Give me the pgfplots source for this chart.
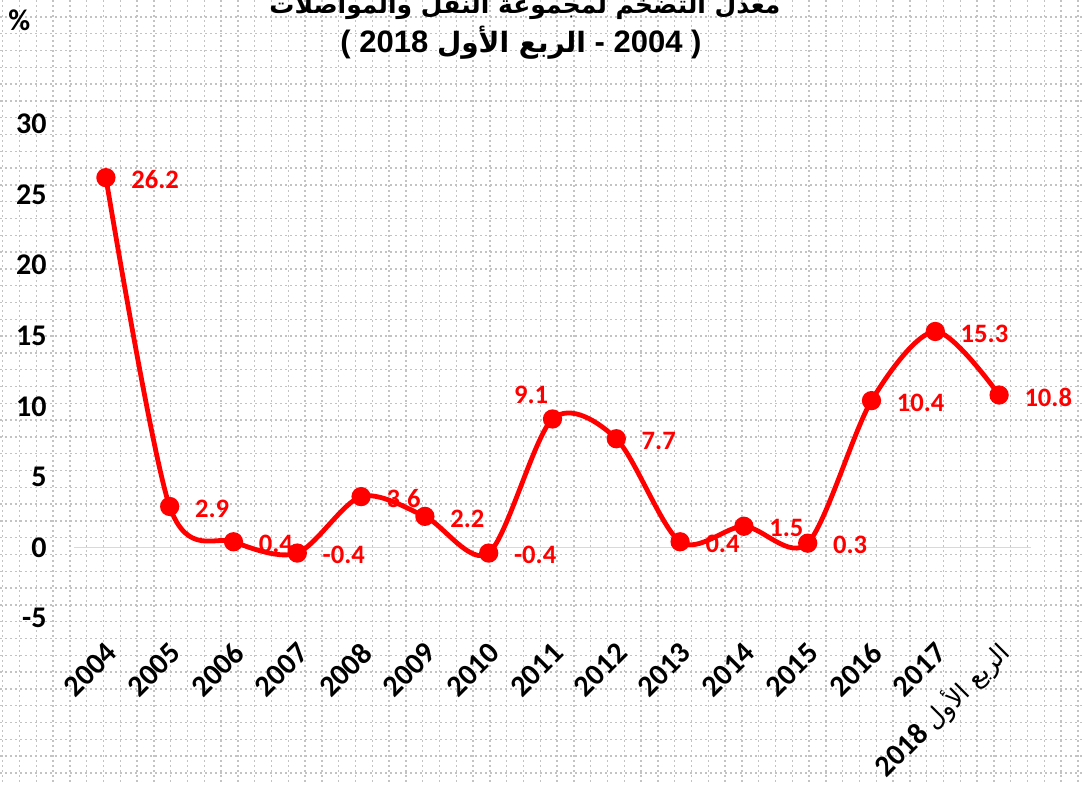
\documentclass[border=0pt]{standalone}
\usepackage{pgfplots}
\pgfplotsset{compat=1.18}
\usetikzlibrary{backgrounds}
\usepackage{fontspec}
\setmainfont{Carlito}
\newfontfamily\titlefont{Liberation Sans}
\newfontfamily\arabicfont[Script=Arabic]{DejaVu Sans}
\TeXXeTstate=1
\definecolor{lblred}{RGB}{255,0,0}
\definecolor{zeroline}{RGB}{217,217,217}
\definecolor{bggrid}{RGB}{195,195,195}

\pgfplotstableread{
x y lbl
0 26.2 26.2
1 2.9 2.9
2 0.4 0.4
3 -0.4 -0.4
4 3.6 3.6
5 2.2 2.2
6 -0.4 -0.4
7 9.1 {}
8 7.7 7.7
9 0.4 0.4
10 1.5 1.5
11 0.3 0.3
12 10.4 10.4
13 15.3 15.3
14 10.8 10.8
}\mainseries

\pgfplotstableread{
x y lbl
7 9.1 9.1
}\leftlabel

\begin{document}
\begin{tikzpicture}
\begin{axis}[
  scale only axis, width=478.5pt, height=247pt,
  xmin=-0.5, xmax=14.5, ymin=-5, ymax=30,
  clip=false,
  axis line style={draw=none},
  major tick length=0pt,
  xtick={0,1,2,3,4,5,6,7,8,9,10,11,12,13,14},
  xticklabels={2004,2005,2006,2007,2008,2009,2010,2011,2012,2013,2014,2015,2016,2017,{2018 {\arabicfont\mdseries\fontsize{12.5}{13}\selectfont\beginR الربع الأول\endR}}},
  ytick={-5,0,5,10,15,20,25,30},
  yticklabels={-5,0,5,10,15,20,25,30},
  extra y ticks={0},
  extra y tick labels={},
  extra y tick style={grid=major, major grid style={zeroline, line width=0.8pt}},
  yticklabel style={anchor=east, inner sep=0pt, xshift=-13.5pt, font=\bfseries\fontsize{15}{15}\selectfont},
  xticklabel style={anchor=east, inner sep=0pt, yshift=-15pt, xshift=3pt, rotate=45, font=\bfseries\fontsize{15}{15}\selectfont},
]
\addplot[color=lblred, line width=2.4pt, smooth, mark=*, mark size=3.6pt, mark options={solid, fill=lblred},
  nodes near coords, point meta=explicit symbolic,
  nodes near coords style={anchor=west, inner sep=0pt, xshift=11.5pt, yshift=-1pt, text=lblred, font=\bfseries\fontsize{13.3}{14}\selectfont}]
  table[x=x, y=y, meta=lbl] {\mainseries};
\addplot[draw=none, mark=none,
  nodes near coords, point meta=explicit symbolic,
  nodes near coords style={anchor=south east, inner sep=0pt, xshift=-2pt, yshift=7.5pt, text=lblred, font=\bfseries\fontsize{13.3}{14}\selectfont}]
  table[x=x, y=y, meta=lbl] {\leftlabel};
\coordinate (PSW) at (rel axis cs:0,0);
\end{axis}
\begin{scope}[shift={(PSW)}, xshift=-37pt, yshift=309pt, x=1pt, y=1pt]
\begin{scope}[on background layer]
\foreach \i in {0,...,64} {
  \draw[bggrid, line width=0.7pt, dash pattern=on 1pt off 1.5pt] ({1.35+8.4*\i},0) -- ({1.35+8.4*\i},-392.5);
}
\foreach \j in {0,...,46} {
  \draw[bggrid, line width=0.7pt, dash pattern=on 1pt off 1.5pt] (0,{-8.5-8.4*\j}) -- (541,{-8.5-8.4*\j});
}
\end{scope}
\node[anchor=base, inner sep=0pt, font=\arabicfont\bfseries\fontsize{12.5}{13}\selectfont] at (262.5,-7) {\beginR معدل التضخم لمجموعة النقل والمواصلات\endR};
\node[anchor=base, inner sep=0pt, font=\titlefont\bfseries\fontsize{15.5}{16}\selectfont] at (260.5,-26.5) {( 2018 {\arabicfont\fontsize{14}{16}\selectfont\beginR الربع الأول\endR} - 2004 )};
\node[anchor=base west, inner sep=0pt, font=\bfseries\fontsize{15}{15}\selectfont] at (4,-15.5) {\%};
\pgfresetboundingbox
\useasboundingbox (0,0) rectangle (541,-392.5);
\end{scope}
\end{tikzpicture}
\end{document}
